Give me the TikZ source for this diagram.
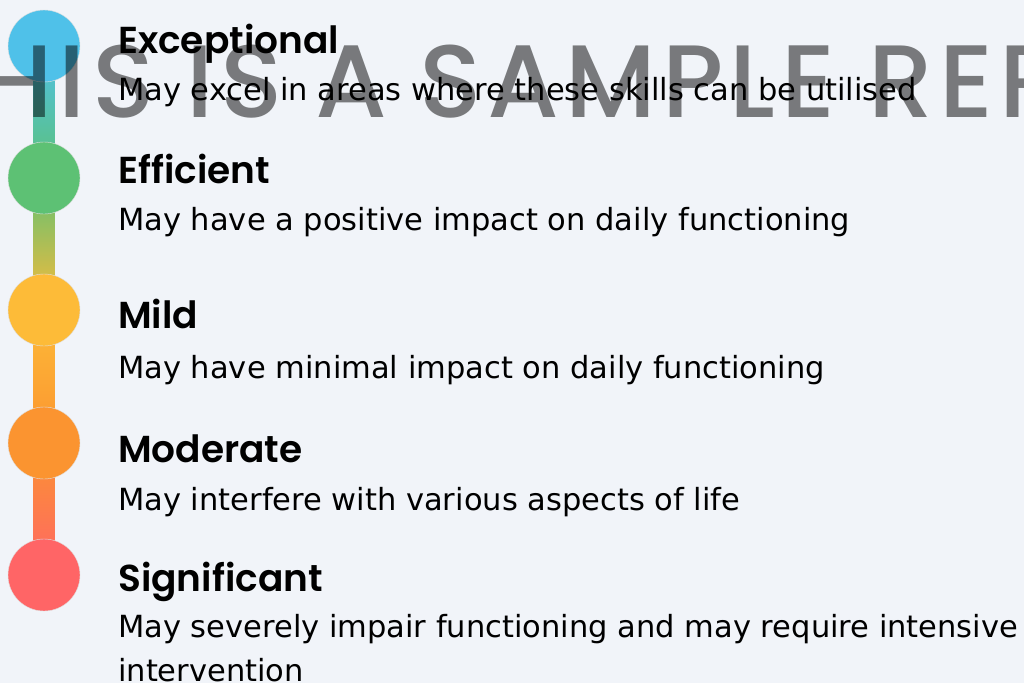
\documentclass[tikz,border=0pt]{standalone}
\usepackage{fontspec}
\setmainfont{DejaVu Sans}
\newfontfamily\headfont{Poppins}[BoldFont={Poppins SemiBold}]
\newfontfamily\stampfont{Poppins Medium}[LetterSpace=5.8]
\usetikzlibrary{calc}

\definecolor{panelbg}{HTML}{F1F4F9}
\definecolor{lvlblue}{HTML}{4FC1E9}
\definecolor{lvlgreen}{HTML}{5DC174}
\definecolor{lvlyellow}{HTML}{FDBB38}
\definecolor{lvlorange}{HTML}{FB9430}
\definecolor{lvlred}{HTML}{FF6566}

\begin{document}
\begin{tikzpicture}[x=1pt, y=-1pt,
  level/.style={circle, minimum size=72pt, inner sep=0pt, draw=black!12, line width=0.4pt},
  title/.style={anchor=base west, inner sep=0pt, font=\headfont\bfseries\fontsize{37.5}{40}\selectfont},
  desc/.style={anchor=base west, inner sep=0pt, align=left, font=\fontsize{30.5}{44}\selectfont}]
  % --- panel ---
  \useasboundingbox (0,0) rectangle (1024,683);
  \clip (0,0) rectangle (1024,683);
  \fill[panelbg] (0,0) rectangle (1024,683);

  % circle centres along the scale
  \coordinate (p1) at (44,46);
  \coordinate (p2) at (44,178);
  \coordinate (p3) at (44,310);
  \coordinate (p4) at (44,443);
  \coordinate (p5) at (44,575);

  % --- connecting bar (gradient per segment) ---
  \shade[top color=lvlblue, bottom color=lvlgreen] ($(p1)+(-10.5,0)$) rectangle ($(p2)+(10.5,0)$);
  \shade[top color=lvlgreen, bottom color=lvlyellow] ($(p2)+(-10.5,0)$) rectangle ($(p3)+(10.5,0)$);
  \shade[top color=lvlyellow, bottom color=lvlorange] ($(p3)+(-10.5,0)$) rectangle ($(p4)+(10.5,0)$);
  \shade[top color=lvlorange, bottom color=lvlred] ($(p4)+(-10.5,0)$) rectangle ($(p5)+(10.5,0)$);

  % --- level circles ---
  \node[level, fill=lvlblue] (exceptional) at (p1) {};
  \node[level, fill=lvlgreen] (efficient) at (p2) {};
  \node[level, fill=lvlyellow] (mild) at (p3) {};
  \node[level, fill=lvlorange] (moderate) at (p4) {};
  \node[level, fill=lvlred] (significant) at (p5) {};

  % watermark
  \node[anchor=base west, inner sep=0pt, text=black, text opacity=0.5,
        font=\stampfont\fontsize{103}{103}\selectfont] (stamp) at (-84,117) {THIS IS A SAMPLE REPORT};

  % --- labels ---
  \node[title] (t1) at (118,53) {Exceptional};
  \node[desc] (d1) at (118,100) {May excel in areas where these skills can be utilised};
  \node[title] (t2) at (118,183) {Efficient};
  \node[desc] (d2) at (118,230) {May have a positive impact on daily functioning};
  \node[title] (t3) at (118,328) {Mild};
  \node[desc] (d3) at (118,378) {May have minimal impact on daily functioning};
  \node[title] (t4) at (118,462) {Moderate};
  \node[desc] (d4) at (118,510) {May interfere with various aspects of life};
  \node[title] (t5) at (118,591) {Significant};
  \node[desc] (d5) at (118,681) {May severely impair functioning and may require intensive\\intervention};
\end{tikzpicture}
\end{document}
